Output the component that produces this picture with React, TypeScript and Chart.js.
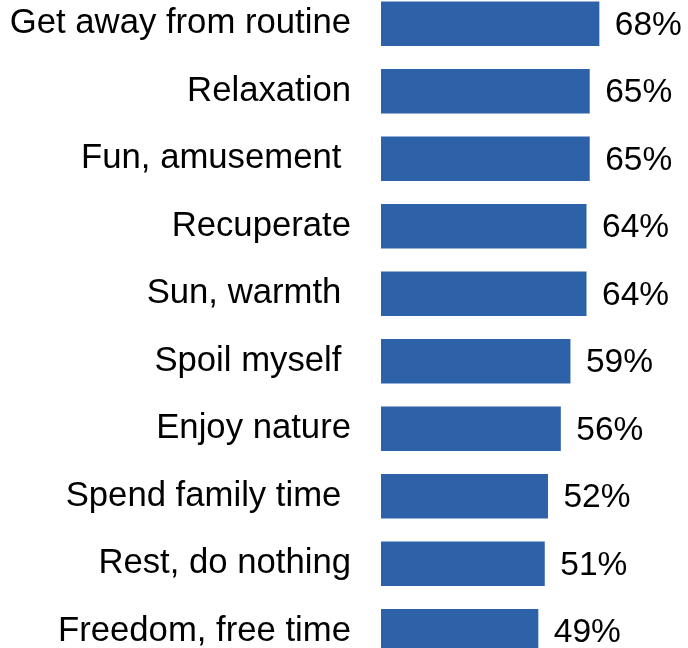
import React, { useEffect, useRef } from "react";
import { Chart, registerables } from "chart.js";

Chart.register(...registerables);

const categories = [
  "Get away from routine",
  "Relaxation",
  "Fun, amusement ",
  "Recuperate",
  "Sun, warmth ",
  "Spoil myself ",
  "Enjoy nature",
  "Spend family time ",
  "Rest, do nothing",
  "Freedom, free time",
];
const values = [68, 65, 65, 64, 64, 59, 56, 52, 51, 49];

const FONT = '"Liberation Sans", Arial, sans-serif';

const valueLabels = {
  id: "valueLabels",
  afterDatasetsDraw(chart: any) {
    const ctx = chart.ctx;
    const meta = chart.getDatasetMeta(0);
    ctx.save();
    ctx.font = `33.5px ${FONT}`;
    ctx.fillStyle = "#000000";
    ctx.textAlign = "left";
    ctx.textBaseline = "middle";
    meta.data.forEach((bar: any, i: number) => {
      ctx.fillText(`${values[i]}%`, bar.x + 15.5, bar.y + 2);
    });
    ctx.restore();
  },
};

export default function App() {
  const ref = useRef<HTMLCanvasElement | null>(null);
  useEffect(() => {
    if (!ref.current) return;
    const chart = new Chart(ref.current, {
      type: "bar",
      data: {
        labels: categories,
        datasets: [
          {
            data: values,
            backgroundColor: "#2D62A9",
            borderWidth: 0,
            categoryPercentage: 1,
            barPercentage: 0.66,
          },
        ],
      },
      options: {
        indexAxis: "y",
        responsive: false,
        animation: false,
        layout: { padding: { left: 0, right: 18, top: 0, bottom: 0 } },
        plugins: { legend: { display: false }, tooltip: { enabled: false } },
        scales: {
          x: { display: false, min: 0, max: 90 },
          y: {
            grid: { display: false, drawTicks: false },
            border: { display: false },
            ticks: {
              color: "#000000",
              padding: 30,
              font: { family: FONT, size: 34.7 },
            },
            afterFit(scale: any) {
              scale.width = 381;
              scale.paddingTop = 0;
              scale.paddingBottom = 0;
            },
          },
        },
      },
      plugins: [valueLabels],
    });
    return () => chart.destroy();
  }, []);
  return (
    <div
      style={{
        position: "absolute",
        left: 0,
        top: 0,
        width: 688,
        height: 648,
        overflow: "hidden",
        background: "#ffffff",
      }}
    >
      <canvas
        ref={ref}
        width={688}
        height={675}
        style={{ position: "absolute", left: 0, top: -10, width: 688, height: 675 }}
      />
    </div>
  );
}
